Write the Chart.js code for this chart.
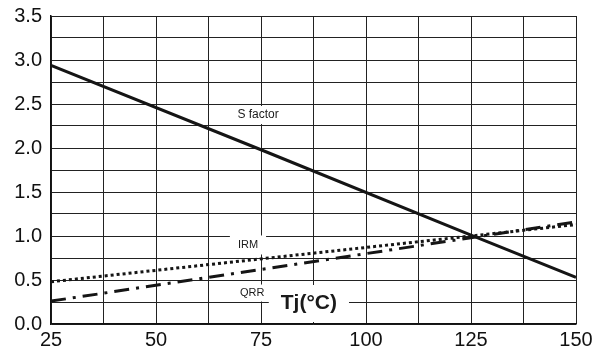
<!DOCTYPE html>
<html>
<head>
<meta charset="utf-8">
<script src="https://cdn.jsdelivr.net/npm/chart.js@4/dist/chart.umd.min.js"></script>
<style>
  html, body { margin: 0; padding: 0; background: #fff; }
  #wrap { width: 607px; height: 359px; position: relative; }
</style>
</head>
<body>
<div id="wrap"><canvas id="c" width="607" height="359"></canvas></div>
<script>
// Junction temperature Tj (°C) sample points
const tj = [25, 75, 125, 150];
// Normalised characteristics versus Tj
const sFactor = [2.94, 1.98, 1.01, 0.53];
const irm = [0.48, 0.74, 1.00, 1.13];
const qrr = [0.26, 0.62, 0.98, 1.16];

// In-plot text labels (data coordinates)
const labelNames = ['S factor', 'IRM', 'QRR', 'Tj(°C)'];
const labelX = [74.3, 71.9, 72.9, 86.4];
const labelY = [2.375, 0.898, 0.352, 0.233];

const FONT = '"Liberation Sans", Arial, Helvetica, sans-serif';

const toPoints = (ys) => tj.map((x, i) => ({ x, y: ys[i] }));

const labelPlugin = {
  id: 'plotLabels',
  beforeDatasetsDraw(chart) {
    const { ctx, scales } = chart;
    const styles = [
      { font: '12px ' + FONT, size: 12, padX: 4, padY: 3 },
      { font: '11px ' + FONT, size: 11, padX: 8, padY: 4 },
      { font: '11px ' + FONT, size: 11, padX: 5, padY: 3 },
      { font: 'bold 21px ' + FONT, size: 21, padX: 12, padY: 8 }
    ];
    ctx.save();
    labelNames.forEach((txt, i) => {
      const st = styles[i];
      const px = scales.x.getPixelForValue(labelX[i]);
      const py = scales.y.getPixelForValue(labelY[i]);
      ctx.font = st.font;
      const w = ctx.measureText(txt).width;
      ctx.fillStyle = '#fff';
      ctx.fillRect(px - w / 2 - st.padX, py - st.size / 2 - st.padY, w + 2 * st.padX, st.size + 2 * st.padY);
      ctx.fillStyle = '#1a1a1a';
      ctx.textAlign = 'center';
      ctx.textBaseline = 'middle';
      ctx.fillText(txt, px, py);
    });
    ctx.restore();
  }
};

new Chart(document.getElementById('c'), {
  type: 'line',
  data: {
    datasets: [
      {
        label: 'S factor',
        data: toPoints(sFactor),
        borderColor: '#151515',
        borderWidth: 3,
        pointRadius: 0,
        tension: 0
      },
      {
        label: 'IRM',
        data: toPoints(irm),
        borderColor: '#151515',
        borderWidth: 3,
        borderDash: [3, 3],
        pointRadius: 0,
        tension: 0
      },
      {
        label: 'QRR',
        data: toPoints(qrr),
        borderColor: '#151515',
        borderWidth: 3,
        borderDash: [15, 7, 3, 7],
        pointRadius: 0,
        tension: 0
      }
    ]
  },
  options: {
    responsive: false,
    animation: false,
    layout: { padding: { top: 16, right: 31, left: 0, bottom: 0 } },
    plugins: { legend: { display: false }, tooltip: { enabled: false } },
    scales: {
      x: {
        type: 'linear',
        min: 25,
        max: 150,
        afterFit(scale) {
          scale.height = 35;
          scale.paddingLeft = 0;
          scale.paddingRight = 0;
        },
        ticks: {
          stepSize: 12.5,
          autoSkip: false,
          maxRotation: 0,
          padding: 4,
          color: '#111',
          font: { family: FONT, size: 20 },
          callback: (v) => (v % 25 === 0 ? String(v) : '')
        },
        grid: { color: '#222', lineWidth: 1, drawTicks: false },
        border: { color: '#111', width: 1.5 }
      },
      y: {
        min: 0,
        max: 3.5,
        afterFit(scale) {
          scale.width = 51;
          scale.paddingTop = 0;
          scale.paddingBottom = 0;
        },
        ticks: {
          stepSize: 0.25,
          autoSkip: false,
          padding: 9,
          color: '#111',
          font: { family: FONT, size: 20 },
          callback: (v) => (v % 0.5 === 0 ? v.toFixed(1) : '')
        },
        grid: { color: '#222', lineWidth: 1, drawTicks: false },
        border: { color: '#111', width: 1.5 }
      }
    }
  },
  plugins: [labelPlugin]
});
</script>
</body>
</html>
